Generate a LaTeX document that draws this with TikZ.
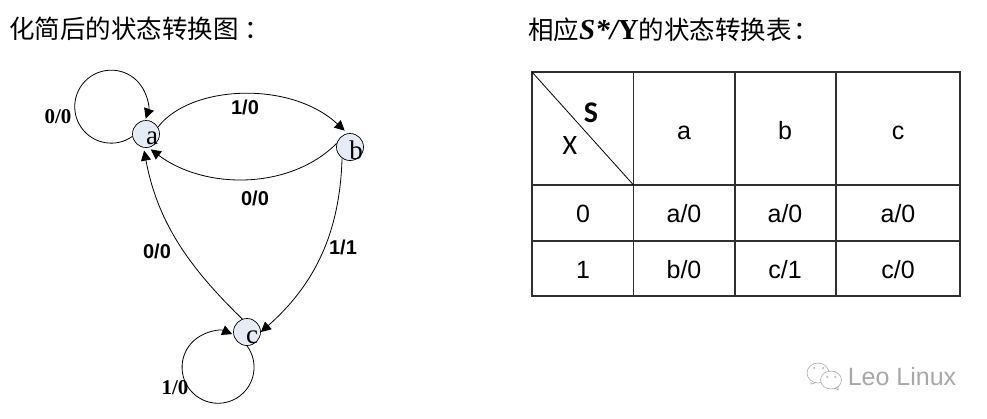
\documentclass[tikz,border=0pt]{standalone}
\usepackage{fontspec}
\setmainfont{Liberation Serif}
\setsansfont{Liberation Sans}
\newfontfamily\cjk{Noto Sans CJK SC}
\newfontfamily\cali{Carlito}
\usetikzlibrary{arrows.meta}
\definecolor{statefill}{HTML}{E6ECF6}
\definecolor{gridline}{HTML}{303030}
\definecolor{markgray}{HTML}{A8A8A8}
\newcommand{\latinpart}[1]{{\rmfamily\bfseries\fontsize{29}{29}\selectfont #1}}
\tikzset{
  statenode/.style={circle,draw=black,line width=0.7pt,fill=statefill,minimum size=27pt,inner sep=0pt},
  stateletter/.style={inner sep=0pt,font=\fontsize{27}{27}\selectfont},
  edge/.style={line width=0.8pt,-{Triangle[length=10pt,width=10pt]}},
  sanslabel/.style={inner sep=0pt,font=\sffamily\bfseries\fontsize{20}{20}\selectfont},
  seriflabel/.style={inner sep=0pt,font=\bfseries\fontsize{21}{21}\selectfont},
  headline/.style={inner sep=0pt,anchor=west,font=\fontsize{25.5}{25.5}\selectfont},
  cell/.style={inner sep=0pt,font=\sffamily\fontsize{25}{25}\selectfont},
  gridrule/.style={draw=gridline,line width=1.1pt},
  wmline/.style={draw=markgray,line width=0.6pt}
}
\begin{document}
\begin{tikzpicture}[x=1pt,y=-1pt]
\useasboundingbox (0,0) rectangle (987,418);
% headings
\node[headline] (h1) at (9,29) {\cjk 化简后的状态转换图\kern 6pt：};
\node[headline] (h2) at (528,30) {\cjk 相应\latinpart{\itshape S*/}\latinpart{Y}的状态转换表\kern 2pt：};
% states
\node[statenode] (a) at (146,134) {};
\node[statenode] (b) at (350,147) {};
\node[statenode] (c) at (247,332) {};
\node[stateletter] (la) at (152,138) {a};
\node[stateletter] (lb) at (356,150) {b};
\node[stateletter] (lc) at (252,337) {c};
% self loops
\draw[edge] (a.190) arc[start angle=54.6,end angle=379,radius=36.5];
\draw[edge] (c.-90) arc[start angle=-36.5,end angle=293,radius=36];
% transitions
\draw[edge,shorten >=4pt] (a.30) .. controls (190,85) and (290,80) .. (b.100);
\draw[edge,shorten >=3pt] (b.165) .. controls (290,190) and (205,190) .. (a.-80);
\draw[edge] (b.-125) .. controls (340,225) and (320,280) .. (c.0);
\draw[edge,shorten >=3pt] (c.110) .. controls (192,270) and (158,225) .. (a.-100);
% labels
\node[sanslabel] (t1) at (245,107) {1/0};
\node[sanslabel] (t2) at (255,198) {0/0};
\node[sanslabel] (t3) at (157,251) {0/0};
\node[sanslabel] (t4) at (343,247) {1/1};
\node[seriflabel] (t5) at (58,117) {0/0};
\node[seriflabel] (t6) at (175,388) {1/0};
% table
\coordinate (tl) at (532,72);
\coordinate (dg) at (633.5,185);
\draw[gridrule] (532,72) rectangle (960,296);
\draw[gridrule] (532,185) -- (960,185);
\draw[gridrule] (532,241) -- (960,241);
\draw[gridrule] (633.5,72) -- (633.5,296);
\draw[gridrule] (735,72) -- (735,296);
\draw[gridrule] (836,72) -- (836,296);
\draw[line width=0.8pt] (tl) -- (dg);
\node[cell,font=\cali\bfseries\fontsize{30}{30}\selectfont] (hs) at (591,113) {S};
\node[cell,font=\cali\fontsize{28}{28}\selectfont] (hx) at (570,146) {X};
\node[cell,anchor=base] (ha) at (684,139) {a};
\node[cell,anchor=base] (hb) at (785,139) {b};
\node[cell,anchor=base] (hc) at (898,139) {c};
\node[cell] (r0) at (583,214) {0};
\node[cell] (r1) at (583,270) {1};
\node[cell] (c1) at (684,214) {a/0};
\node[cell] (c2) at (785,214) {a/0};
\node[cell] (c3) at (898,214) {a/0};
\node[cell] (c4) at (684,270) {b/0};
\node[cell] (c5) at (785,270) {c/1};
\node[cell] (c6) at (898,270) {c/0};
% watermark
\draw[wmline] (818,373) ellipse [x radius=11,y radius=10];
\draw[wmline] (811,382) -- (811,384) -- (815,383);
\draw[wmline,fill=white] (831,380) ellipse [x radius=10.5,y radius=9];
\draw[wmline] (835,388) -- (838,390) -- (838,386);
\fill[markgray] (814,368) circle (1pt) (823,368) circle (1pt) (827,377) circle (1pt) (835,377) circle (1pt);
\node[inner sep=0pt,text=markgray,font=\sffamily\fontsize{25}{25}\selectfont] (wm) at (902,377) {Leo Linux};
\end{tikzpicture}
\end{document}
